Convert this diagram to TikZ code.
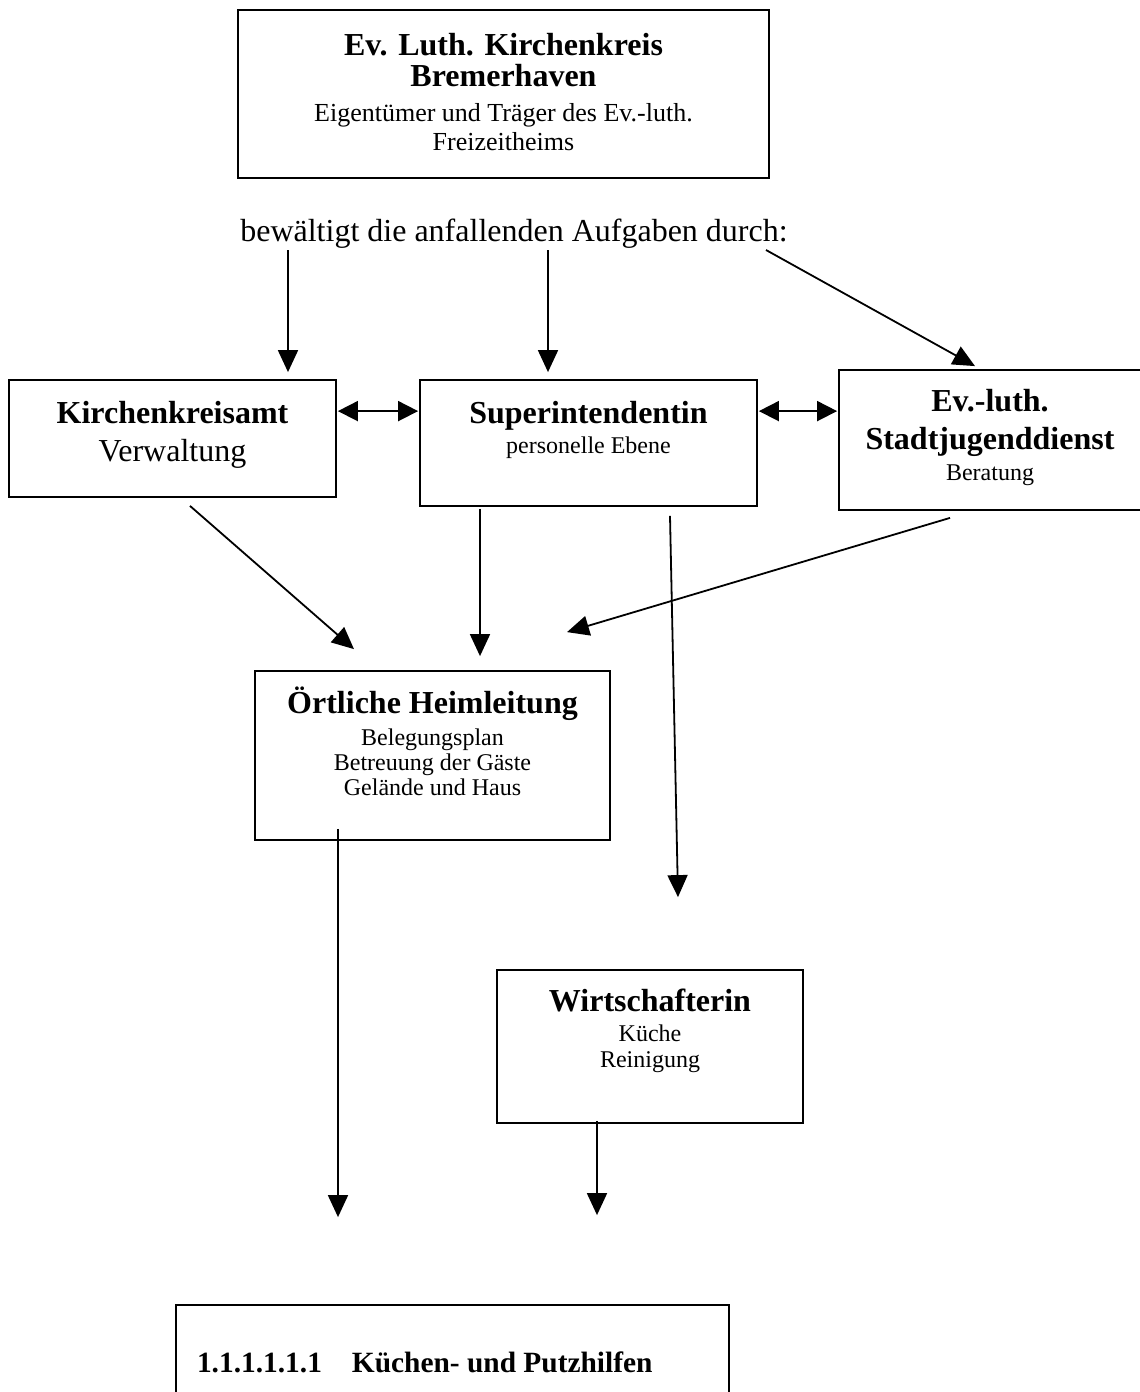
\documentclass[tikz,border=0pt]{standalone}
\usepackage{fontspec}
\setmainfont{Liberation Serif}
\usepackage{tikz}
\usetikzlibrary{arrows.meta}
\usetikzlibrary{calc}
\newcommand{\inhalt}[3]{\parbox[t][#2][t]{#1}{\centering #3}}
\newcommand{\kopf}[1]{\rule{0pt}{#1}}
\newcommand{\titel}{\fontsize{16}{19}\selectfont\bfseries}
\tikzstyle{kasten}=[rectangle,draw,inner sep=0pt,line width=0.9pt]
\tikzstyle{pfeil}=[-{Triangle[length=11pt,width=10pt]},line width=0.9pt]
\tikzstyle{doppel}=[{Triangle[length=10pt,width=10pt]}-{Triangle[length=10pt,width=10pt]},line width=0.9pt]

\begin{document}
\begin{tikzpicture}[x=0.5pt,y=-0.5pt]
\useasboundingbox (0,0) rectangle (1140,1392);
\node[kasten] (kreis) at (503.5,94) {\inhalt{265.5pt}{84pt}{{\fontsize{16}{15.5}\selectfont\bfseries\kopf{22.5pt}Ev. Luth. Kirchenkreis\\ Bremerhaven\par}\vspace{3pt}{\fontsize{13}{14.5}\selectfont Eigentümer und Träger des Ev.-luth.\\ Freizeitheims\par}}};
\node[anchor=base,font=\fontsize{16}{19}\selectfont] (txt) at (514,241) {bewältigt die anfallenden Aufgaben durch:};
\node[kasten] (kka) at (172.5,438.5) {\inhalt{163.5pt}{58.5pt}{{\titel\kopf{21.5pt}Kirchenkreisamt\par}{\fontsize{16}{19}\selectfont Verwaltung\par}}};
\node[kasten] (sup) at (588.5,443) {\inhalt{168.5pt}{63pt}{{\titel\kopf{21.5pt}Superintendentin\par}{\fontsize{12}{15}\selectfont personelle Ebene\par}}};
\node[kasten] (sjd) at (990,440) {\inhalt{151pt}{70pt}{{\titel\kopf{20.5pt}Ev.-luth.\\ Stadtjugenddienst\par}{\fontsize{12}{15.5}\selectfont Beratung\par}}};
\node[kasten] (heim) at (432.5,755.5) {\inhalt{177.5pt}{84.5pt}{{\titel\kopf{21pt}Örtliche Heimleitung\par}\vspace{3.5pt}{\fontsize{12}{12.5}\selectfont Belegungsplan\\ Betreuung der Gäste\\ Gelände und Haus\par}}};
\node[kasten] (wirt) at (650,1046.5) {\inhalt{153pt}{76.5pt}{{\titel\kopf{20.5pt}Wirtschafterin\par}\vspace{2pt}{\fontsize{12}{13}\selectfont Küche\\ Reinigung\par}}};
\node[kasten] (putz) at (452.5,1377.5) {\inhalt{276.5pt}{72.5pt}{\raggedright\fontsize{14.7}{16.5}\selectfont\bfseries\hspace*{10.5pt}\kopf{33.5pt}1.1.1.1.1.1\hspace{15pt}Küchen- und Putzhilfen\par}};
% Pfeile
\draw[pfeil] ($(txt.base)+(-226,9)$) -- ($(kka.north)+(115.5,-7)$);
\draw[pfeil] ($(txt.base)+(34,9)$) -- ($(sup.north)+(-40.5,-7)$);
\draw[pfeil] ($(txt.base)+(252,9)$) -- ($(sjd.north)+(-15,-3)$);
\draw[doppel] ($(kka.north east)+(1,32)$) -- ($(sup.north west)+(-1,32)$);
\draw[doppel] ($(sup.north east)+(1,32)$) -- ($(sjd.north west)+(-1,42)$);
\draw[pfeil] ($(kka.south)+(17.5,8)$) -- ($(heim.north)+(-78.5,-21)$);
\draw[pfeil] ($(sup.south)+(-108.5,2)$) -- ($(heim.north)+(47.5,-14)$);
\draw[pfeil] ($(sjd.south)+(-40,7)$) -- ($(heim.north)+(134.5,-38)$);
\draw[pfeil] ($(sup.south)+(81.5,9)$) -- ($(wirt.north)+(28,-72)$);
\draw[pfeil] ($(heim.south)+(-94.5,-12)$) -- ($(putz.north)+(-114.5,-87)$);
\draw[pfeil] ($(wirt.south)+(-53,-3)$) -- ($(putz.north)+(144.5,-89)$);
\end{tikzpicture}
\end{document}
